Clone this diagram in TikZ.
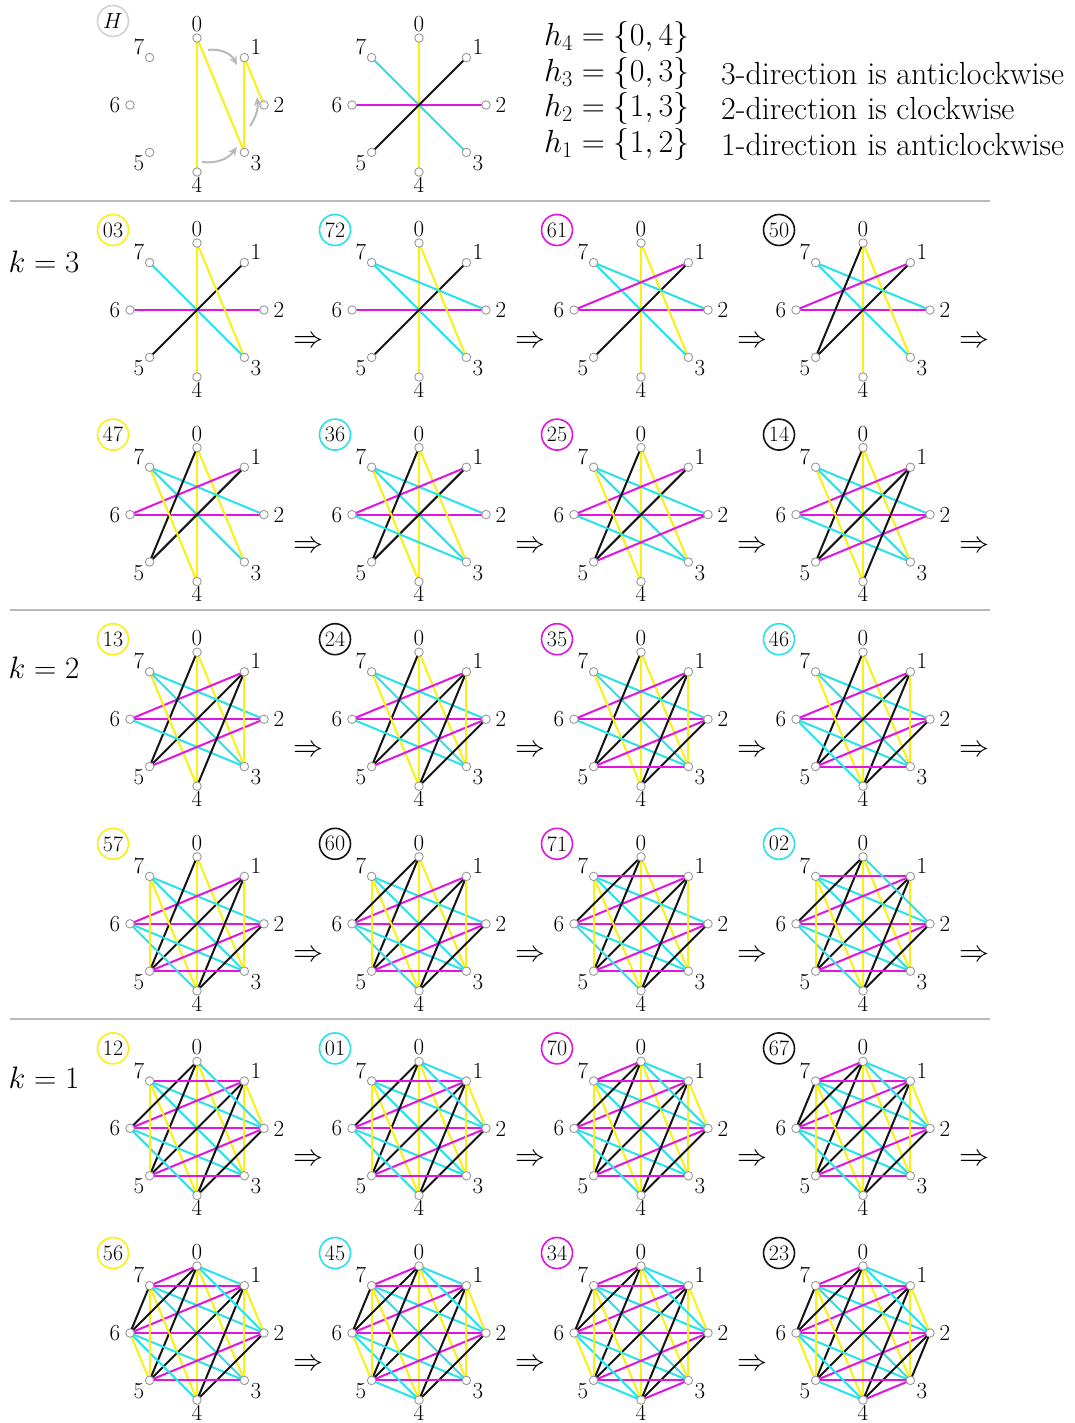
\RequirePackage{fix-cm}
\documentclass[tikz,border=0pt]{standalone}
\usepackage{graphicx}
\usetikzlibrary{arrows.meta}
\definecolor{yel}{RGB}{250,240,20}
\definecolor{cya}{RGB}{40,225,235}
\definecolor{mag}{RGB}{225,20,225}
\definecolor{blk}{RGB}{20,20,20}
\definecolor{sepgray}{RGB}{185,185,185}
\pgfdeclarelayer{back}
\pgfdeclarelayer{bg}
\pgfsetlayers{back,bg,main}
\def\edgelist{0/4/yel,7/3/cya,6/2/mag,5/1/blk,0/3/yel,7/2/cya,6/1/mag,5/0/blk,4/7/yel,3/6/cya,2/5/mag,1/4/blk,1/3/yel,2/4/blk,3/5/mag,4/6/cya,5/7/yel,6/0/blk,7/1/mag,0/2/cya,1/2/yel,0/1/cya,7/0/mag,6/7/blk,5/6/yel,4/5/cya,3/4/mag,2/3/blk}
\def\vtxpos{0/0/-67,1/47.4/-47.4,2/67/0,3/47.4/47.4,4/0/67,5/-47.4/47.4,6/-67/0,7/-47.4/-47.4}
\def\labpos{0/0/-81,1/59/-58,2/82/0,3/59/58,4/0/79.5,5/-58/58,6/-82/0,7/-58/-58}
\newcommand\vertices[3]{%
  \foreach \i/\dx/\dy in \vtxpos {\node[vtx] (P#1-\i) at ({#2+(\dx)},{#3+(\dy)}) {};}
  \foreach \i/\dx/\dy in \labpos {\node[vlab] (P#1-L\i) at ({#2+(\dx)},{#3+(\dy)}) {\i};}
}
\newcommand\edges[2]{%
  \begin{pgfonlayer}{bg}
  \foreach \a/\b/\c [count=\j] in \edgelist {
    \ifnum\j>#2\relax\else \draw[edge,draw=\c] (P#1-\a.center) -- (P#1-\b.center);\fi
  }
  \end{pgfonlayer}
}
\begin{document}
\begin{tikzpicture}[x=1pt,y=-1pt,
  vtx/.style={circle, draw=gray!80, fill=white, line width=0.9pt, minimum size=8.5pt, inner sep=0pt},
  vlab/.style={font=\fontsize{23}{23}\selectfont, inner sep=0pt},
  edge/.style={line width=2pt},
  clab/.style={circle, line width=1.6pt, minimum size=31pt, inner sep=0pt, font=\fontsize{22}{22}\selectfont},
  sepline/.style={draw=sepgray, line width=1.5pt},
  bigtxt/.style={font=\fontsize{32}{38}\selectfont, inner sep=0pt},
  ktxt/.style={font=\fontsize{31}{36}\selectfont, inner sep=0pt},
  dbl/.style={font=\fontsize{30}{30}\selectfont, inner sep=0pt},
  garrow/.style={draw=gray!55, line width=2pt, -{Stealth[length=9pt,width=8pt]}}]
\useasboundingbox (0,0) rectangle (1075,1423);
\begin{pgfonlayer}{back}
\fill[white] (0,0) rectangle (1075,1423);
\end{pgfonlayer}
% H panel
\vertices{H}{197}{105}
\begin{pgfonlayer}{bg}
\foreach \a/\b in {0/4,0/3,1/3,1/2} \draw[edge,draw=yel] (PH-\a.center) -- (PH-\b.center);
\end{pgfonlayer}
\node[clab, draw=gray!35] (PH-c) at (113,21) {$H$};
\coordinate (ga1s) at (208,50); \coordinate (ga1e) at (237,65);
\coordinate (ga2s) at (202,162); \coordinate (ga2e) at (237,147);
\coordinate (ga3s) at (250,126); \coordinate (ga3e) at (257,97);
\draw[garrow] (ga1s) to[bend left=35] (ga1e);
\draw[garrow] (ga2s) to[bend right=30] (ga2e);
\draw[garrow] (ga3s) to[bend right=20] (ga3e);
% matching panel
\vertices{M}{419}{105}
\edges{M}{4}
% text
\node[bigtxt, anchor=west] (h4) at (544,38) {$h_4=\{0,4\}$};
\node[bigtxt, anchor=west] (h3) at (544,74) {$h_3=\{0,3\}$};
\node[bigtxt, anchor=west] (h2) at (544,109) {$h_2=\{1,3\}$};
\node[bigtxt, anchor=west] (h1) at (544,145) {$h_1=\{1,2\}$};
\node[bigtxt, anchor=west] (d3) at (721,74) {3-direction is anticlockwise};
\node[bigtxt, anchor=west] (d2) at (721,109) {2-direction is clockwise};
\node[bigtxt, anchor=west] (d1) at (721,145) {1-direction is anticlockwise};
% separators and k labels
\draw[sepline] (10,201) -- (990,201);
\draw[sepline] (10,610) -- (990,610);
\draw[sepline] (10,1019) -- (990,1019);
\node[ktxt] (k3) at (44,262) {$k=3$};
\node[ktxt] (k2) at (44,668) {$k=2$};
\node[ktxt] (k1) at (44,1078) {$k=1$};
% panels
\foreach \lab/\col [count=\p] in {03/yel,72/cya,61/mag,50/blk,47/yel,36/cya,25/mag,14/blk,13/yel,24/blk,35/mag,46/cya,57/yel,60/blk,71/mag,02/cya,12/yel,01/cya,70/mag,67/blk,56/yel,45/cya,34/mag,23/blk} {
  \pgfmathtruncatemacro\r{int((\p-1)/4)}
  \pgfmathtruncatemacro\cc{mod(\p-1,4)}
  \pgfmathsetmacro\cx{197+222*\cc}
  \pgfmathsetmacro\cy{310+204.6*\r}
  \pgfmathtruncatemacro\n{4+\p}
  \vertices{\p}{\cx}{\cy}
  \edges{\p}{\n}
  \node[clab, draw=\col] (P\p-c) at ({\cx-84},{\cy-80}) {\lab};
  \ifnum\p<24 \node[dbl] (P\p-a) at ({\cx+111},{\cy+32}) {$\Rightarrow$};\fi
}
\end{tikzpicture}
\end{document}
